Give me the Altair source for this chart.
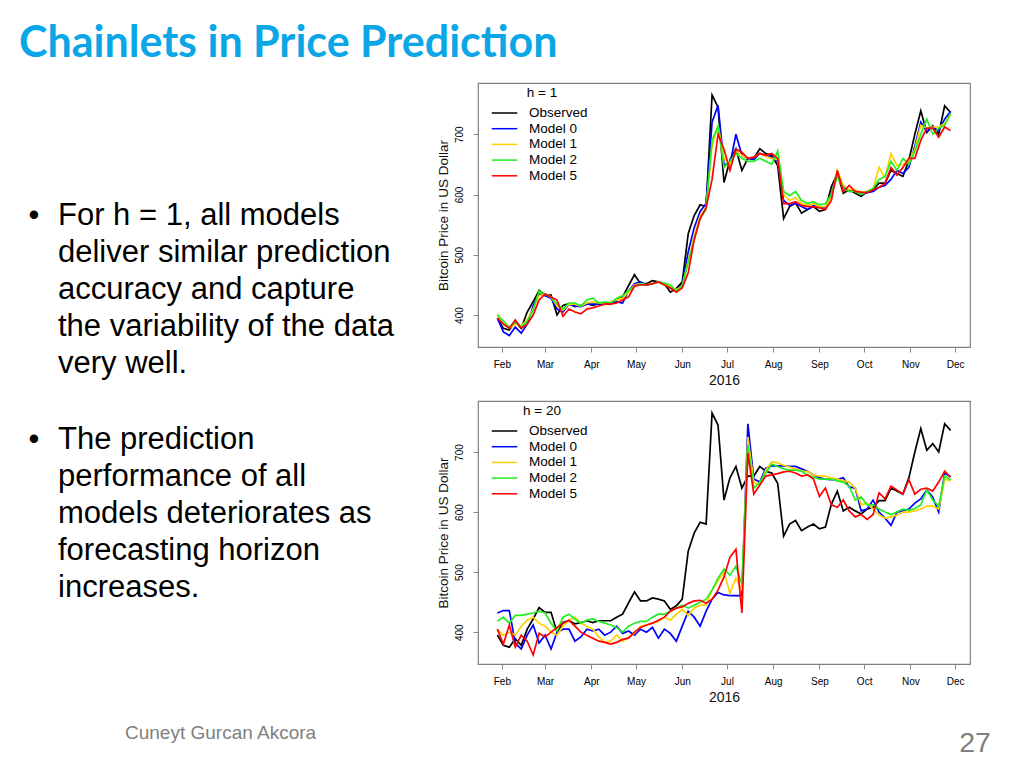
import altair as alt
import pandas as pd

# ---------------- data ----------------
dates = pd.date_range("2016-01-29", periods=77, freq="4D").strftime("%Y-%m-%d").tolist()
series_names = ["Observed", "Model 0", "Model 1", "Model 2", "Model 5"]
month_ticks = list(range(2, 13))
y_ticks = [400, 500, 600, 700]

observed = [395, 378, 375, 389, 378, 405, 422, 441, 433, 433,
            400, 416, 419, 414, 416, 419, 416, 419, 419, 419,
            425, 430, 449, 467, 452, 452, 457, 455, 452, 438,
            444, 455, 535, 565, 583, 580, 765, 745, 620, 657,
            676, 640, 660, 660, 676, 668, 665, 648, 560, 580,
            586, 569, 575, 580, 572, 575, 613, 635, 602, 608,
            602, 597, 605, 608, 619, 619, 640, 635, 630, 657,
            700, 739, 703, 714, 700, 747, 736]

h1_model0 = [395, 372, 366, 380, 370, 385, 415, 435, 432, 428,
             410, 405, 418, 415, 414, 418, 418, 418, 418, 420,
             422, 420, 440, 452, 455, 450, 452, 455, 452, 445,
             440, 450, 505, 545, 572, 585, 720, 748, 650, 650,
             700, 665, 660, 658, 668, 665, 662, 655, 590, 582,
             585, 580, 575, 582, 578, 578, 600, 635, 612, 605,
             606, 600, 603, 605, 612, 615, 625, 640, 635, 645,
             680, 720, 705, 712, 706, 725, 738]
h1_model1 = [402, 385, 378, 385, 382, 392, 410, 432, 435, 430,
             415, 408, 418, 418, 415, 420, 422, 420, 420, 422,
             425, 428, 438, 450, 452, 450, 452, 455, 452, 448,
             442, 448, 490, 530, 565, 578, 680, 715, 660, 650,
             672, 665, 660, 662, 668, 663, 660, 658, 600, 590,
             595, 585, 582, 585, 580, 580, 595, 640, 615, 608,
             608, 603, 605, 610, 645, 628, 668, 648, 650, 655,
             675, 715, 710, 712, 712, 718, 732]
h1_model2 = [400, 390, 380, 388, 380, 390, 408, 440, 435, 430,
             418, 410, 420, 420, 415, 425, 428, 420, 422, 420,
             428, 432, 440, 448, 452, 450, 452, 455, 453, 450,
             440, 448, 488, 525, 560, 575, 690, 713, 645, 655,
             668, 660, 655, 655, 660, 655, 650, 672, 605, 598,
             605, 590, 585, 588, 583, 585, 600, 630, 610, 605,
             605, 600, 605, 610, 625, 630, 655, 640, 660, 650,
             672, 700, 725, 700, 710, 715, 735]
h1_model5 = [395, 385, 378, 392, 378, 385, 400, 425, 435, 430,
             425, 398, 410, 405, 402, 410, 412, 415, 418, 418,
             420, 425, 430, 448, 450, 450, 452, 455, 450, 445,
             438, 445, 470, 525, 560, 578, 625, 700, 675, 640,
             675, 670, 660, 662, 668, 665, 668, 660, 585, 585,
             588, 582, 580, 580, 578, 575, 590, 640, 605, 615,
             605, 604, 603, 608, 612, 618, 645, 632, 645, 660,
             660, 690, 710, 710, 695, 712, 706]

h20_model0 = [432, 436, 436, 382, 372, 395, 412, 382, 395, 372,
              400, 405, 405, 385, 392, 405, 402, 405, 395, 400,
              410, 398, 402, 395, 405, 400, 408, 390, 405, 398,
              385, 410, 435, 425, 410, 435, 455, 466, 462, 461,
              461, 461, 747, 655, 650, 673, 677, 677, 677, 676,
              676, 672, 668, 662, 657, 655, 654, 654, 657, 642,
              640, 602, 605, 620, 600, 590, 578, 600, 602, 605,
              615, 622, 637, 625, 600, 665, 659]
h20_model1 = [405, 395, 400, 395, 410, 420, 425, 415, 410, 400,
              395, 410, 420, 425, 415, 410, 405, 392, 383, 385,
              395, 385, 392, 398, 410, 412, 415, 418, 425, 420,
              430, 438, 428, 440, 445, 445, 470, 485, 500, 465,
              490, 470, 725, 650, 645, 670, 684, 682, 678, 675,
              672, 668, 668, 662, 660, 660, 657, 655, 652, 650,
              640, 612, 615, 605, 595, 590, 592, 595, 600, 600,
              602, 605, 610, 610, 605, 655, 652]
h20_model2 = [418, 425, 415, 428, 428, 430, 432, 435, 432, 415,
              402, 425, 430, 422, 415, 420, 422, 418, 415, 412,
              408, 400, 410, 415, 418, 418, 425, 430, 430, 435,
              440, 445, 440, 445, 450, 455, 470, 490, 505, 495,
              510, 480, 712, 640, 650, 665, 680, 676, 672, 670,
              670, 668, 662, 658, 655, 655, 655, 652, 650, 643,
              620, 625, 612, 612, 605, 600, 596, 600, 605, 603,
              606, 612, 637, 620, 610, 660, 654]
h20_model5 = [405, 380, 412, 375, 395, 385, 362, 398, 392, 400,
              408, 415, 420, 410, 400, 395, 390, 385, 383, 380,
              383, 388, 390, 400, 408, 412, 415, 420, 425, 435,
              440, 442, 448, 452, 453, 448, 455, 470, 492, 525,
              538, 432, 698, 630, 645, 660, 662, 664, 667, 668,
              665, 660, 662, 655, 626, 640, 612, 608, 620, 602,
              592, 596, 588, 596, 632, 622, 643, 637, 630, 654,
              630, 638, 640, 635, 650, 668, 658]

slide_title = "Chainlets in Price Prediction"
bullet_1 = ["For h = 1, all models", "deliver similar prediction",
            "accuracy and capture", "the variability of the data", "very well."]
bullet_2 = ["The prediction", "performance of all", "models deteriorates as",
            "forecasting horizon", "increases."]
author = "Cuneyt Gurcan Akcora"
page_number = "27"

# ---------------- styles ----------------
series_colors = ["#000000", "#0000FF", "#FFD000", "#22EE22", "#FF0000"]
FONT = "Liberation Sans"
PLOT_W = 492


def long_frame(series_list):
    rows = []
    for name, vals in zip(series_names, series_list):
        for d, v in zip(dates, vals):
            rows.append({"date": d, "price": v, "series": name})
    return pd.DataFrame(rows)


def price_chart(series_list, legend_title, height, extra=None):
    df = long_frame(series_list)
    x_dom = [alt.DateTime(year=2016, month=1, date=16, utc=True),
             alt.DateTime(year=2016, month=12, date=11, utc=True)]
    lines = alt.Chart(df).mark_line(strokeWidth=1.7).encode(
        x=alt.X("date:T",
                scale=alt.Scale(type="utc", domain=x_dom, nice=False),
                axis=alt.Axis(values=[alt.DateTime(year=2016, month=m, date=1, utc=True)
                                      for m in month_ticks],
                              labelExpr="utcFormat(datum.value, '%b')",
                              grid=False, domain=False,
                              title="2016", labelPadding=7, titlePadding=4,
                              titleFontSize=14, titleFontWeight="normal",
                              titleColor="#111111")),
        y=alt.Y("price:Q",
                scale=alt.Scale(domain=[347, 785], nice=False, zero=False),
                axis=alt.Axis(values=y_ticks, title="Bitcoin Price in US Dollar",
                              grid=False, domain=False,
                              labelAngle=270, labelAlign="center",
                              labelBaseline="bottom", labelPadding=9,
                              titlePadding=4, titleFontSize=13.5,
                              titleFontWeight="normal", titleColor="#111111")),
        color=alt.Color("series:N",
                        scale=alt.Scale(domain=series_names, range=series_colors),
                        legend=alt.Legend(title=legend_title, orient="none",
                                          legendX=18, legendY=3,
                                          symbolType="M-1.7,0H1.7", symbolSize=225,
                                          symbolStrokeWidth=1.5,
                                          labelFont=FONT, labelFontSize=13.5,
                                          labelColor="#000000", labelOffset=16,
                                          titleFont=FONT, titleFontSize=13.5,
                                          titleFontWeight="normal",
                                          titleColor="#000000",
                                          titleAnchor="middle", titlePadding=5,
                                          rowPadding=0.7, padding=0)),
    )
    layers = [lines]
    if extra is not None:
        layers.append(extra)
    return alt.layer(*layers).properties(
        width=PLOT_W, height=height,
        view=alt.ViewBackground(stroke="#808080", strokeWidth=1.2))


page_num_text = alt.Chart(pd.DataFrame({"t": [page_number]})).mark_text(
    font=FONT, fontSize=28.5, color="#7f7f7f", align="center", baseline="alphabetic"
).encode(text="t:N", x=alt.value(497), y=alt.value(351))

top = price_chart([observed, h1_model0, h1_model1, h1_model2, h1_model5], "h = 1", 264)
bottom = price_chart([observed, h20_model0, h20_model1, h20_model2, h20_model5],
                     "h = 20", 263, extra=page_num_text)

spacer = alt.Chart(pd.DataFrame({"k": [0]})).mark_point(opacity=0, size=1).encode(
    x=alt.value(20), y=alt.value(10)
).properties(width=PLOT_W, height=20,
             view=alt.ViewBackground(stroke="transparent"))

right = alt.vconcat(spacer, top, bottom, spacing=54, bounds="flush").resolve_scale(
    color="independent", x="independent", y="independent"
).resolve_legend(color="independent")

# ---------------- left panel (slide text) ----------------
title_mark = alt.Chart(pd.DataFrame({"t": [slide_title]})).mark_text(
    font="Lato", fontSize=43, fontWeight="bold", color="#0AA6E6",
    align="left", baseline="alphabetic"
).encode(text="t:N", x=alt.value(10), y=alt.value(48))

dot1 = alt.Chart(pd.DataFrame({"t": ["\u2022"]})).mark_text(
    font=FONT, fontSize=31, color="#000000", align="center", baseline="alphabetic"
).encode(text="t:N", x=alt.value(25), y=alt.value(216))
dot2 = alt.Chart(pd.DataFrame({"t": ["\u2022"]})).mark_text(
    font=FONT, fontSize=31, color="#000000", align="center", baseline="alphabetic"
).encode(text="t:N", x=alt.value(25), y=alt.value(440))

para1 = alt.Chart(pd.DataFrame({"t": ["\n".join(bullet_1)]})).mark_text(
    font=FONT, fontSize=31, color="#000000", align="left", baseline="alphabetic",
    lineBreak="\n", lineHeight=37
).encode(text="t:N", x=alt.value(49), y=alt.value(216))
para2 = alt.Chart(pd.DataFrame({"t": ["\n".join(bullet_2)]})).mark_text(
    font=FONT, fontSize=31, color="#000000", align="left", baseline="alphabetic",
    lineBreak="\n", lineHeight=37
).encode(text="t:N", x=alt.value(49), y=alt.value(440))

author_mark = alt.Chart(pd.DataFrame({"t": [author]})).mark_text(
    font=FONT, fontSize=19, color="#7f7f7f", align="left", baseline="alphabetic"
).encode(text="t:N", x=alt.value(116), y=alt.value(730))

left = alt.layer(title_mark, dot1, dot2, para1, para2, author_mark).properties(
    width=420, height=700, view=alt.ViewBackground(stroke="transparent"))

chart = alt.hconcat(left, right, spacing=49, bounds="flush").properties(
    padding=0
).configure_view(stroke="transparent").configure_axis(
    grid=False, domain=False, tickColor="#808080", tickSize=5, tickWidth=1,
    labelColor="#808080", labelFont=FONT, labelFontSize=10.5,
    titleFont=FONT, titleFontWeight="normal", titleColor="#111111"
).configure(background="white")

chart.save("out.html", embed_options={"renderer": "svg", "actions": False})
